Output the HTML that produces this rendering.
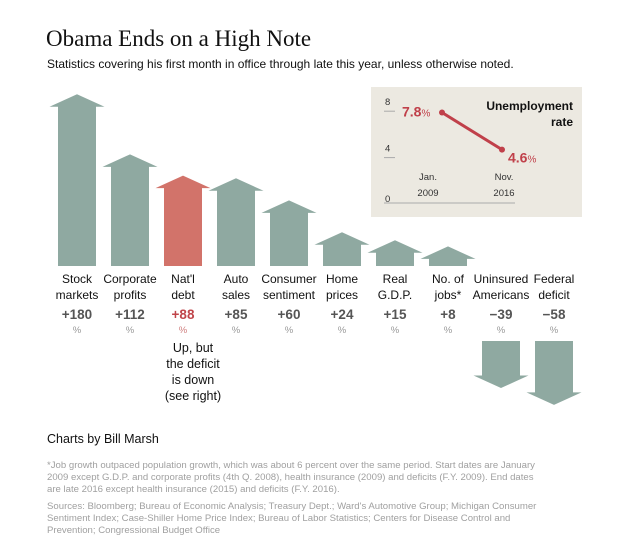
<!DOCTYPE html>
<html><head><meta charset="utf-8"><style>
body{margin:0;background:#fff;width:642px;height:555px;overflow:hidden;font-family:"Liberation Sans",sans-serif;position:relative}
.t{position:absolute;white-space:nowrap}
</style></head><body>
<div class="t" style="left:46px;top:26px;font-family:'Liberation Serif',serif;font-size:23px;color:#111">Obama Ends on a High Note</div>
<div class="t" style="left:47px;top:57px;font-size:12px;color:#111">Statistics covering his first month in office through late this year, unless otherwise noted.</div>
<svg id="c" width="642" height="420" style="position:absolute;left:0;top:0"></svg>
<div class="t" style="left:47px;top:432px;font-size:12.5px;color:#111">Charts by Bill Marsh</div>
<div class="t" style="left:47px;top:460px;font-size:9.6px;line-height:12px;color:#a0a0a0">*Job growth outpaced population growth, which was about 6 percent over the same period. Start dates are January<br>2009 except G.D.P. and corporate profits (4th Q. 2008), health insurance (2009) and deficits (F.Y. 2009). End dates<br>are late 2016 except health insurance (2015) and deficits (F.Y. 2016).</div>
<div class="t" style="left:47px;top:501px;font-size:9.6px;line-height:12px;color:#a0a0a0">Sources: Bloomberg; Bureau of Economic Analysis; Treasury Dept.; Ward's Automotive Group; Michigan Consumer<br>Sentiment Index; Case-Shiller Home Price Index; Bureau of Labor Statistics; Centers for Disease Control and<br>Prevention; Congressional Budget Office</div>
<script>
const labels1=["Stock","Corporate","Nat'l","Auto","Consumer","Home","Real","No. of","Uninsured","Federal"];
const labels2=["markets","profits","debt","sales","sentiment","prices","G.D.P.","jobs*","Americans","deficit"];
const values=[180,112,88,85,60,24,15,8,-39,-58];
const highlight=[false,false,true,false,false,false,false,false,false,false];
const unempDates=[["Jan.","2009"],["Nov.","2016"]];
const unempValues=[7.8,4.6];
const unempTicks=[0,4,8];
const NS="http://www.w3.org/2000/svg";
const svg=document.getElementById('c');
function mk(tag,attrs,parent){const e=document.createElementNS(NS,tag);for(const k in attrs)e.setAttribute(k,attrs[k]);(parent||svg).appendChild(e);return e;}
const base=266,scale=0.885,x0=77,step=53,sw=19,hw=27.5,hh=12.5,downTop=341;
const xs=i=>x0+i*step;
const ys=v=>v*scale;
values.forEach((v,i)=>{
  const cx=xs(i);const col=highlight[i]?"#d2736a":"#8fa9a1";
  let pts;
  if(v>=0){const top=base-ys(v);
    pts=[[cx-sw,base],[cx-sw,top],[cx-hw,top],[cx,top-hh],[cx+hw,top],[cx+sw,top],[cx+sw,base]];
  }else{const bot=downTop+ys(-v);
    pts=[[cx-sw,downTop],[cx-sw,bot],[cx-hw,bot],[cx,bot+hh],[cx+hw,bot],[cx+sw,bot],[cx+sw,downTop]];}
  const p=mk('polygon',{points:pts.map(q=>q.join(',')).join(' '),fill:col});
  
  
  const t1=mk('text',{x:cx,y:283,'text-anchor':'middle','font-size':'12',fill:'#111'});t1.textContent=labels1[i];
  
  
  const t2=mk('text',{x:cx,y:299,'text-anchor':'middle','font-size':'12',fill:'#111'});t2.textContent=labels2[i];
  
  
  const vc=highlight[i]?"#c0454a":"#555";
  const t3=mk('text',{x:cx,y:319,'text-anchor':'middle','font-size':'13.5','font-weight':'bold',fill:vc});t3.textContent=(v>0?'+':'\u2212')+Math.abs(v);
  
  
  const t4=mk('text',{x:cx,y:333,'text-anchor':'middle','font-size':'9.5',fill:highlight[i]?"#d08080":"#999"});t4.textContent='%';
  
  
});
const note=["Up, but","the deficit","is down","(see right)"];
note.forEach((s,j)=>{const t=mk('text',{x:xs(2)+10,y:352+j*16,'text-anchor':'middle','font-size':'12.5',fill:'#111'});t.textContent=s;
  
  });
const g=mk('g',{});


mk('rect',{x:371,y:87,width:211,height:130,fill:'#ece9e1'},g);
const uy=v=>203-v*11.6;
const ux=i=>442+i*60;
mk('line',{x1:384,x2:515,y1:203,y2:203,stroke:'#aaa','stroke-width':1},g);
unempTicks.forEach(v=>{const t=mk('text',{x:385,y:uy(v)-(v?5:1),'font-size':'9.5',fill:'#333'},g);t.textContent=v;
  
  
  if(v)mk('line',{x1:384,x2:395,y1:uy(v)+1,y2:uy(v)+1,stroke:'#aaa'},g);});
unempDates.forEach((d,i)=>{const cx=i?504:428;
  const a=mk('text',{x:cx,y:180,'text-anchor':'middle','font-size':'9.5',fill:'#333'},g);a.textContent=d[0];
  
  
  const b=mk('text',{x:cx,y:196,'text-anchor':'middle','font-size':'9.5',fill:'#333'},g);b.textContent=d[1];
  
  });
mk('line',{x1:ux(0),y1:uy(unempValues[0]),x2:ux(1),y2:uy(unempValues[1]),stroke:'#c0404a','stroke-width':3},g);
unempValues.forEach((v,i)=>{mk('circle',{cx:ux(i),cy:uy(v),r:3,fill:'#c0404a'},g);
  const t=mk('text',{x:i?ux(i)+6:ux(i)-40,y:uy(v)+(i?13:4),'font-size':'14','font-weight':'bold',fill:'#c0404a'},g);
  t.innerHTML=v.toFixed(1)+'<tspan font-size="10" font-weight="normal">%</tspan>';
  
  });
const u1=mk('text',{x:573,y:110,'text-anchor':'end','font-size':'12','font-weight':'bold',fill:'#111'},g);u1.textContent='Unemployment';


const u2=mk('text',{x:573,y:126,'text-anchor':'end','font-size':'12','font-weight':'bold',fill:'#111'},g);u2.textContent='rate';


</script>
</body></html>
